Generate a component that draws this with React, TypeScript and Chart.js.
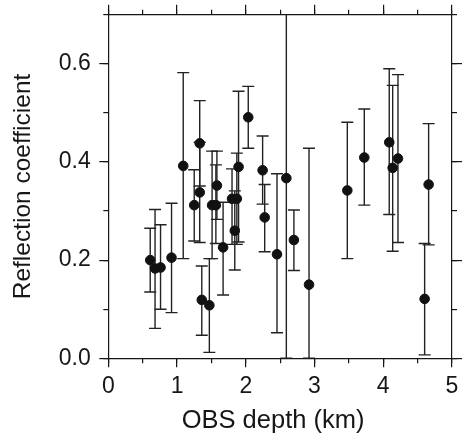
import React, { useEffect, useRef } from "react";
import { Chart, registerables } from "chart.js";

Chart.register(...registerables);

// OBS depth (km)
const depth = [0.61, 0.68, 0.76, 0.92, 1.09, 1.25, 1.33, 1.33, 1.36, 1.47, 1.51, 1.565, 1.58, 1.67, 1.80, 1.87, 1.84, 1.895, 2.036, 2.245, 2.275, 2.454, 2.59, 2.70, 2.92, 3.477, 3.724, 4.087, 4.137, 4.214, 4.602, 4.66];
// Reflection coefficient
const coef = [0.200, 0.183, 0.185, 0.205, 0.392, 0.312, 0.438, 0.338, 0.119, 0.108, 0.312, 0.312, 0.352, 0.226, 0.325, 0.325, 0.260, 0.390, 0.491, 0.383, 0.287, 0.212, 0.367, 0.241, 0.150, 0.342, 0.409, 0.440, 0.388, 0.407, 0.121, 0.354];
const errLow = [0.135, 0.061, 0.100, 0.093, 0.203, 0.239, 0.351, 0.236, 0.047, 0.012, 0.203, 0.234, 0.283, 0.129, 0.232, 0.232, 0.180, 0.237, 0.428, 0.314, 0.217, 0.052, 0.0, 0.179, 0.0, 0.203, 0.312, 0.293, 0.218, 0.236, 0.007, 0.231];
const errHigh = [0.265, 0.303, 0.272, 0.316, 0.582, 0.384, 0.525, 0.440, 0.188, 0.203, 0.422, 0.394, 0.422, 0.318, 0.386, 0.418, 0.341, 0.544, 0.554, 0.453, 0.354, 0.376, 0.80, 0.302, 0.428, 0.481, 0.508, 0.590, 0.556, 0.578, 0.234, 0.478];

const xMin = 0;
const xMax = 5;
const yMin = 0;
const yMax = 0.7;
const xTitle = "OBS depth (km)  ";
const yTitle = "Reflection coefficient";

const FONT = "'Liberation Sans', Arial, Helvetica, sans-serif";
const INK = "#161616";

const errorBars = {
  id: "errorBars",
  beforeDatasetsDraw(chart: any) {
    const { ctx, chartArea } = chart;
    const xs = chart.scales.x;
    const ys = chart.scales.y;
    ctx.save();
    ctx.beginPath();
    ctx.rect(chartArea.left, chartArea.top, chartArea.right - chartArea.left, chartArea.bottom - chartArea.top);
    ctx.clip();
    ctx.strokeStyle = "#222222";
    ctx.lineWidth = 1.4;
    const cap = 6;
    for (let i = 0; i < depth.length; i++) {
      const px = xs.getPixelForValue(depth[i]);
      const pl = ys.getPixelForValue(errLow[i]);
      const ph = ys.getPixelForValue(errHigh[i]);
      ctx.beginPath();
      ctx.moveTo(px, pl);
      ctx.lineTo(px, ph);
      ctx.moveTo(px - cap, pl);
      ctx.lineTo(px + cap, pl);
      ctx.moveTo(px - cap, ph);
      ctx.lineTo(px + cap, ph);
      ctx.stroke();
    }
    ctx.restore();
  },
};

function gridOpts(len: number) {
  return {
    drawOnChartArea: false,
    drawTicks: true,
    tickLength: len,
    color: INK,
    lineWidth: 1.2,
  };
}

function noPad(s: any) {
  s.paddingTop = 0;
  s.paddingBottom = 0;
  s.paddingLeft = 0;
  s.paddingRight = 0;
}

export default function App() {
  const ref = useRef<HTMLCanvasElement | null>(null);
  useEffect(() => {
    if (!ref.current) return;
    const chart = new Chart(ref.current, {
      type: "scatter",
      data: {
        datasets: [
          {
            data: depth.map((d, i) => ({ x: d, y: coef[i] })),
            xAxisID: "x",
            yAxisID: "y",
            backgroundColor: "#111111",
            borderColor: "#111111",
            borderWidth: 1,
            pointRadius: 4.8,
            pointHoverRadius: 4.8,
          },
        ],
      },
      options: {
        responsive: false,
        animation: false,
        events: [],
        layout: { padding: 0 },
        plugins: { legend: { display: false }, tooltip: { enabled: false } },
        scales: {
          x: {
            type: "linear",
            position: "bottom",
            weight: 1,
            min: xMin,
            max: xMax,
            ticks: {
              stepSize: 1,
              padding: 6,
              color: INK,
              font: { family: FONT, size: 23 },
              maxRotation: 0,
              callback: (v: any) => String(v),
            },
            grid: gridOpts(9),
            border: { display: true, color: INK, width: 1.2 },
            title: {
              display: true,
              text: xTitle,
              color: INK,
              font: { family: FONT, size: 25.5 },
              padding: { top: 0, bottom: 3 },
            },
            afterFit: (s: any) => { s.height = 80.7; noPad(s); },
          },
          xMinor: {
            type: "linear",
            position: "bottom",
            weight: 0,
            min: xMin,
            max: xMax,
            ticks: { stepSize: 0.5, display: false },
            grid: gridOpts(5),
            border: { display: false },
            afterFit: (s: any) => { s.height = 0; noPad(s); },
          },
          xTop: {
            type: "linear",
            position: "top",
            weight: 1,
            min: xMin,
            max: xMax,
            ticks: { stepSize: 1, display: false },
            grid: gridOpts(10),
            border: { display: true, color: INK, width: 1.2 },
            afterFit: (s: any) => { s.height = 14.7; noPad(s); },
          },
          xTopMinor: {
            type: "linear",
            position: "top",
            weight: 0,
            min: xMin,
            max: xMax,
            ticks: { stepSize: 0.5, display: false },
            grid: gridOpts(5),
            border: { display: false },
            afterFit: (s: any) => { s.height = 0; noPad(s); },
          },
          y: {
            type: "linear",
            position: "left",
            weight: 1,
            min: yMin,
            max: yMax,
            ticks: {
              stepSize: 0.2,
              includeBounds: false,
              padding: 8.5,
              color: INK,
              font: { family: FONT, size: 23 },
              callback: (v: any) => Number(v).toFixed(1),
            },
            grid: gridOpts(9),
            border: { display: true, color: INK, width: 1.2 },
            title: {
              display: true,
              text: yTitle,
              color: INK,
              font: { family: FONT, size: 24.5 },
              padding: { top: 8.5, bottom: 0 },
            },
            afterFit: (s: any) => { s.width = 108.3; noPad(s); },
          },
          yMinor: {
            type: "linear",
            position: "left",
            weight: 0,
            min: yMin,
            max: yMax,
            ticks: { stepSize: 0.1, display: false },
            grid: gridOpts(5),
            border: { display: false },
            afterFit: (s: any) => { s.width = 0; noPad(s); },
          },
          yRight: {
            type: "linear",
            position: "right",
            weight: 1,
            min: yMin,
            max: yMax,
            ticks: { stepSize: 0.2, includeBounds: false, display: false },
            grid: gridOpts(10),
            border: { display: true, color: INK, width: 1.2 },
            afterFit: (s: any) => { s.width = 12; noPad(s); },
          },
          yRightMinor: {
            type: "linear",
            position: "right",
            weight: 0,
            min: yMin,
            max: yMax,
            ticks: { stepSize: 0.1, display: false },
            grid: gridOpts(5),
            border: { display: false },
            afterFit: (s: any) => { s.width = 0; noPad(s); },
          },
        },
      } as any,
      plugins: [errorBars],
    });
    return () => chart.destroy();
  }, []);

  return (
    <div style={{ position: "absolute", left: 0, top: 0, width: 464, height: 439, background: "#fff" }}>
      <canvas ref={ref} width={464} height={439} style={{ display: "block" }} />
    </div>
  );
}
